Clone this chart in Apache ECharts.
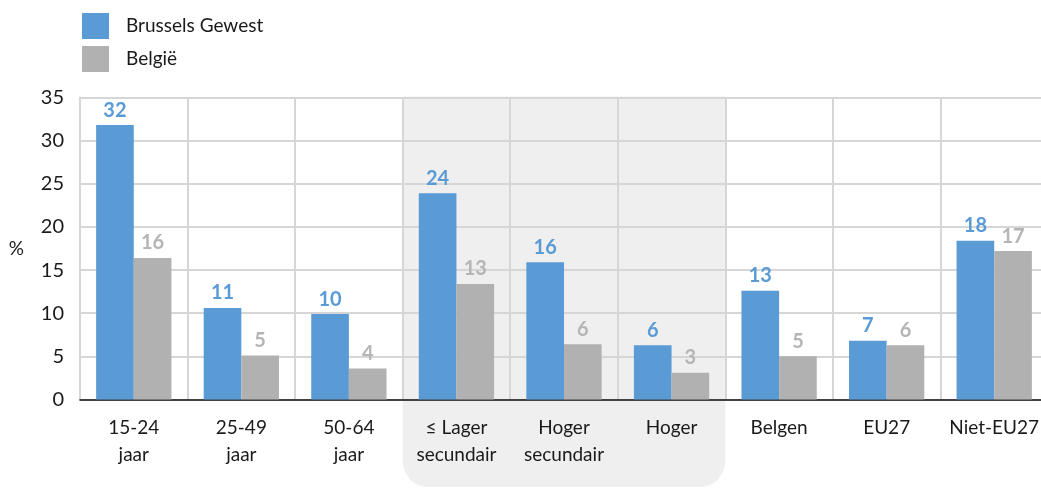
<!DOCTYPE html>
<html>
<head>
<meta charset="utf-8">
<script src="https://cdn.jsdelivr.net/npm/echarts@6/dist/echarts.min.js"></script>
<style>
  html, body { margin: 0; padding: 0; background: #fff; }
  #chart { width: 1041px; height: 489px; }
</style>
</head>
<body>
<div id="chart"></div>
<script>
// categorieën (leeftijd, opleiding, nationaliteit)
var categories = ['15-24\njaar', '25-49\njaar', '50-64\njaar', '≤ Lager\nsecundair', 'Hoger\nsecundair', 'Hoger', 'Belgen', 'EU27', 'Niet-EU27'];
var brussel = [31.8, 10.6, 9.9, 23.9, 15.9, 6.3, 12.6, 6.8, 18.4];
var belgie = [16.4, 5.1, 3.6, 13.4, 6.4, 3.1, 5.0, 6.3, 17.2];
var yTicks = [0, 5, 10, 15, 20, 25, 30, 35];
var shadedFrom = 3, shadedTo = 5; // opleidingsblok

var FONT = 'Lato';
var BLUE = '#5b9bd5', GREY = '#b1b1b1';

var dom = document.getElementById('chart');
var myChart = echarts.init(dom);

var option = {
    animation: false,
    textStyle: { fontFamily: FONT },
    legend: {
        orient: 'vertical',
        left: 77,
        top: 8,
        itemWidth: 27,
        itemHeight: 26,
        itemGap: 7,
        icon: 'rect',
        textStyle: { fontFamily: FONT, fontSize: 19, color: '#1a1a1a', padding: [0, 0, 0, 12] },
        data: ['Brussels Gewest', 'België']
    },
    grid: { left: 80, top: 97.5, width: 968, bottom: 89.5, outerBoundsMode: 'none' },
    xAxis: {
        type: 'category',
        data: categories,
        axisLine: { lineStyle: { color: '#111', width: 1.5 } },
        axisTick: { show: false },
        splitLine: { show: true, lineStyle: { color: '#d6d6d6', width: 2 } },
        axisLabel: { fontFamily: FONT, fontSize: 19, color: '#1a1a1a', lineHeight: 27, margin: 15, interval: 0 }
    },
    yAxis: {
        type: 'value',
        min: yTicks[0],
        max: yTicks[yTicks.length - 1],
        interval: 5,
        name: '%',
        nameLocation: 'middle',
        nameRotate: 0,
        nameGap: 56,
        nameTextStyle: { fontFamily: FONT, fontSize: 19, color: '#1a1a1a', padding: [30, 0, 0, 0] },
        axisLine: { show: true, lineStyle: { color: '#d6d6d6', width: 2 } },
        axisTick: { show: false },
        splitLine: { lineStyle: { color: '#d6d6d6', width: 2 } },
        axisLabel: { fontFamily: FONT, fontSize: 20, color: '#1a1a1a', margin: 16 }
    },
    series: [
        {
            name: 'Brussels Gewest',
            type: 'bar',
            data: brussel,
            barGap: '0%',
            barCategoryGap: '30%',
            itemStyle: { color: BLUE },
            label: {
                show: true, position: 'top', distance: 5,
                fontFamily: FONT, fontSize: 20, fontWeight: 'bold', color: BLUE,
                formatter: function (p) { return Math.round(p.value); }
            },
            z: 3
        },
        {
            name: 'België',
            type: 'bar',
            data: belgie,
            itemStyle: { color: GREY },
            label: {
                show: true, position: 'top', distance: 5,
                fontFamily: FONT, fontSize: 20, fontWeight: 'bold', color: '#b5b5b5',
                formatter: function (p) { return Math.round(p.value); }
            },
            z: 3
        }
    ]
};

myChart.setOption(option);

// grijze achtergrond voor de opleidingscategorieën
var c0 = myChart.convertToPixel({ xAxisIndex: 0 }, shadedFrom);
var c1 = myChart.convertToPixel({ xAxisIndex: 0 }, shadedFrom + 1);
var c2 = myChart.convertToPixel({ xAxisIndex: 0 }, shadedTo);
var bw = c1 - c0;
var plotTop = myChart.convertToPixel({ yAxisIndex: 0 }, yTicks[yTicks.length - 1]);
myChart.setOption({
    graphic: [{
        type: 'rect',
        z: -10,
        silent: true,
        shape: { x: c0 - bw / 2, y: plotTop - 1, width: c2 - c0 + bw, height: 488 - plotTop, r: [0, 0, 26, 26] },
        style: { fill: '#efefef' }
    }]
});
</script>
</body>
</html>
